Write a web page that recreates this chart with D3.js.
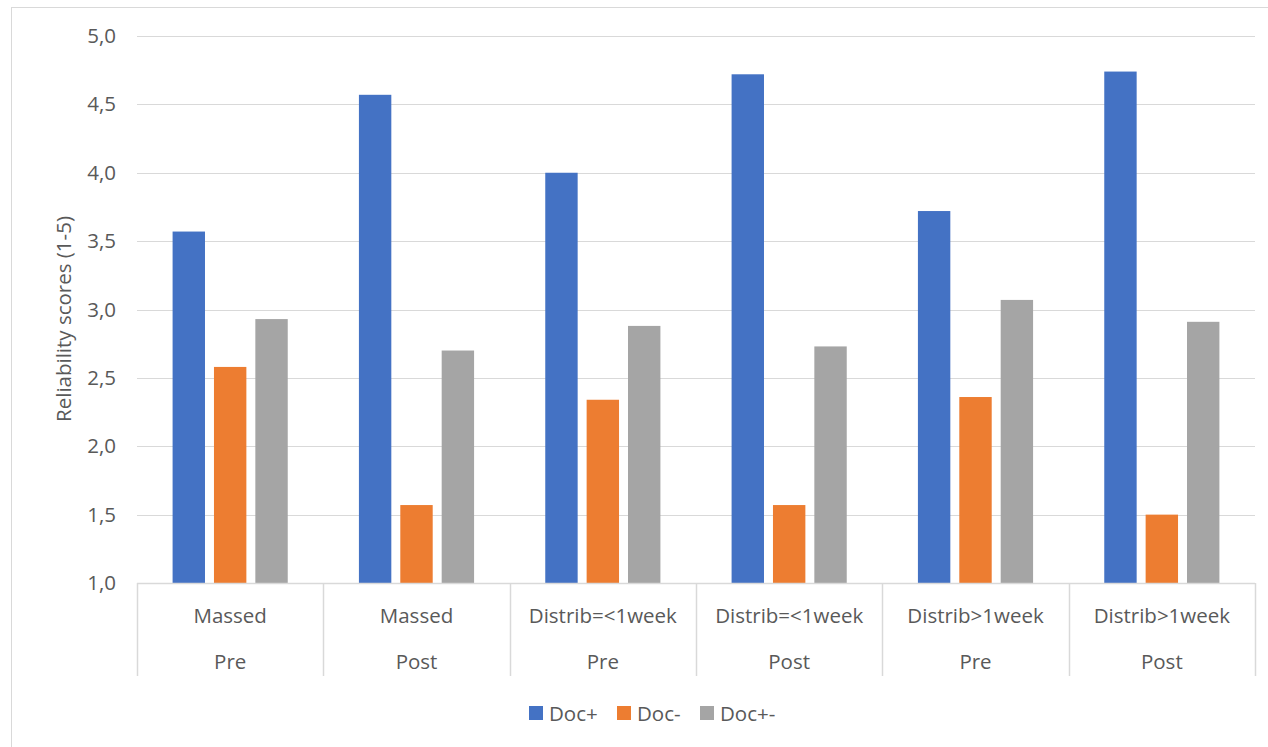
<!DOCTYPE html>
<html>
<head>
<meta charset="utf-8">
<script src="https://cdn.jsdelivr.net/npm/d3@7"></script>
<style>
  html, body { margin: 0; padding: 0; background: #fff; }
  svg { display: block; }
  text { font-family: "Open Sans", "Noto Sans", sans-serif; fill: #595959; }
</style>
</head>
<body>
<svg id="chart" width="1268" height="747"></svg>
<script>
// Reliability scores per condition and documentation type
const groups   = ["Massed", "Massed", "Distrib=<1week", "Distrib=<1week", "Distrib>1week", "Distrib>1week"];
const phases   = ["Pre", "Post", "Pre", "Post", "Pre", "Post"];
const series   = ["Doc+", "Doc-", "Doc+-"];
const docPlus  = [3.57, 4.57, 4.00, 4.72, 3.72, 4.74];
const docMinus = [2.58, 1.57, 2.34, 1.57, 2.36, 1.50];
const docBoth  = [2.93, 2.70, 2.88, 2.73, 3.07, 2.91];
const colors   = ["#4472C4", "#ED7D31", "#A5A5A5"];
const yTicks   = [1.0, 1.5, 2.0, 2.5, 3.0, 3.5, 4.0, 4.5, 5.0];

const values = [docPlus, docMinus, docBoth];
const svg = d3.select("#chart");
const fontSize = "20.5px";

const plotL = 137, plotR = 1255, plotT = 36, plotB = 583;

// chart frame
svg.append("rect")
  .attr("x", 11.5).attr("y", 7.5)
  .attr("width", 1268).attr("height", 760)
  .attr("fill", "none").attr("stroke", "#d9d9d9").attr("stroke-width", 1);

const x0 = d3.scaleBand().domain(d3.range(groups.length)).range([plotL, plotR]).padding(0);
const groupW = x0.bandwidth() * 0.618;
const x1 = d3.scaleBand().domain(series)
  .range([(x0.bandwidth() - groupW) / 2, (x0.bandwidth() + groupW) / 2])
  .paddingInner(0.217).paddingOuter(0);
const y = d3.scaleLinear().domain([1, 5]).range([plotB, plotT]);

// gridlines
svg.append("g")
  .selectAll("line").data(yTicks.filter(t => t > 1)).join("line")
  .attr("x1", plotL).attr("x2", plotR)
  .attr("y1", d => Math.round(y(d)) + 0.5).attr("y2", d => Math.round(y(d)) + 0.5)
  .attr("stroke", "#d9d9d9").attr("stroke-width", 1);

// y axis labels
const yAxis = d3.axisLeft(y).tickValues(yTicks)
  .tickFormat(d => d3.format(".1f")(d).replace(".", ","))
  .tickSize(0).tickPadding(0);
const gy = svg.append("g").attr("transform", `translate(116,0)`).call(yAxis);
gy.select(".domain").remove();
gy.selectAll("text").style("font-size", fontSize).attr("fill", "#595959")
  .style("font-family", '"Open Sans", "Noto Sans", sans-serif');

// axis title
svg.append("text")
  .attr("transform", `translate(71,319) rotate(-90)`)
  .attr("text-anchor", "middle")
  .style("font-size", fontSize)
  .text("Reliability scores (1-5)");

// bars
const g = svg.append("g");
groups.forEach((grp, i) => {
  const cell = g.append("g").attr("transform", `translate(${x0(i)},0)`);
  cell.selectAll("rect").data(series.map((s, k) => ({ s, v: values[k][i], c: colors[k] })))
    .join("rect")
    .attr("x", d => x1(d.s))
    .attr("width", x1.bandwidth())
    .attr("y", d => y(d.v))
    .attr("height", d => y(1) - y(d.v))
    .attr("fill", d => d.c);
});

// category axis line and separators
svg.append("line")
  .attr("x1", plotL).attr("x2", plotR)
  .attr("y1", plotB + 0.5).attr("y2", plotB + 0.5)
  .attr("stroke", "#d9d9d9").attr("stroke-width", 1.5);
const seps = d3.range(groups.length + 1).map(i => i < groups.length ? x0(i) : plotR);
svg.append("g").selectAll("line").data(seps).join("line")
  .attr("x1", d => Math.round(d) + 0.5).attr("x2", d => Math.round(d) + 0.5)
  .attr("y1", plotB).attr("y2", 676)
  .attr("stroke", "#d9d9d9").attr("stroke-width", 1.5);

// two-level category labels
const lab = svg.append("g").attr("text-anchor", "middle").style("font-size", fontSize);
groups.forEach((grp, i) => {
  const cx = x0(i) + x0.bandwidth() / 2;
  lab.append("text").attr("x", cx).attr("y", 622.5).text(grp);
  lab.append("text").attr("x", cx).attr("y", 668.5).text(phases[i]);
});

// legend
const legendX = [529, 617, 700];
const lg = svg.append("g");
series.forEach((s, k) => {
  lg.append("rect").attr("x", legendX[k]).attr("y", 706).attr("width", 14).attr("height", 14).attr("fill", colors[k]);
  lg.append("text").attr("x", legendX[k] + 20).attr("y", 720.5).style("font-size", fontSize).text(s);
});
</script>
</body>
</html>
